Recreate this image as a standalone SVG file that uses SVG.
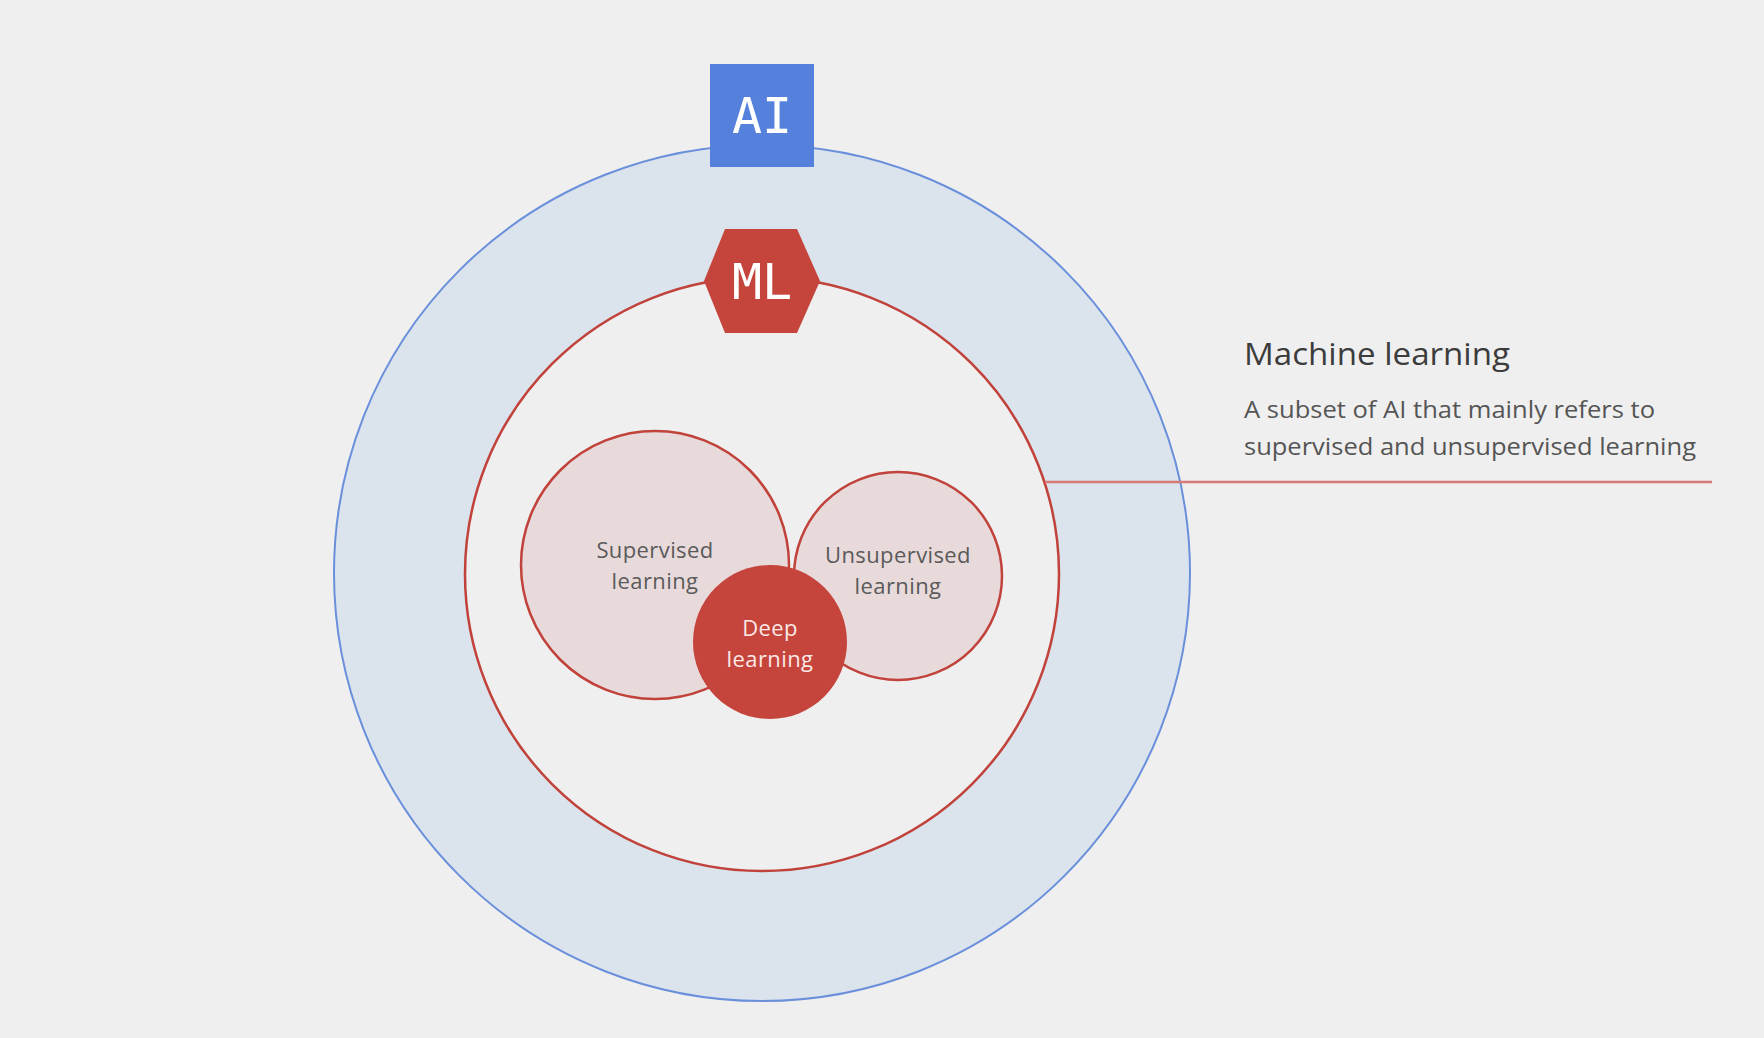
<svg xmlns="http://www.w3.org/2000/svg" width="1764" height="1038" viewBox="0 0 1764 1038">
<style>
.lbl{font-family:"Open Sans","Liberation Sans",sans-serif;font-size:22px;letter-spacing:0.4px;fill:#5a5a5a;text-anchor:middle}
.mono{font-family:"DejaVu Sans Mono","Liberation Mono",monospace;font-size:50px;fill:#ffffff;text-anchor:middle}
.desc{font-family:"Open Sans","Liberation Sans",sans-serif;font-size:23px;fill:#555555}
</style>
<rect width="1764" height="1038" fill="#efefef"/>
<g id="ai-circle"><circle cx="762" cy="573" r="428" fill="#dbe3ec" stroke="#6a8fdb" stroke-width="2"/></g>
<g id="ml-circle"><circle cx="762" cy="574" r="297" fill="#efefef" stroke="#c0423b" stroke-width="2.5"/></g>
<g id="connectors"><line x1="1045" y1="482" x2="1712" y2="482" stroke="#d77a78" stroke-width="2.5"/></g>
<g id="supervised"><circle cx="655" cy="565" r="134" fill="#e8dadb" stroke="#c0423b" stroke-width="2.5"/>
<text class="lbl" x="655" y="558">Supervised</text><text class="lbl" x="655" y="589">learning</text></g>
<g id="unsupervised"><circle cx="898" cy="576" r="104" fill="#e8dadb" stroke="#c0423b" stroke-width="2.5"/>
<text class="lbl" x="898" y="563">Unsupervised</text><text class="lbl" x="898" y="594">learning</text></g>
<g id="deep"><circle cx="770" cy="642" r="77" fill="#c5443b"/>
<text class="lbl" x="770" y="636" style="fill:#fbe9e7">Deep</text><text class="lbl" x="770" y="667" style="fill:#fbe9e7">learning</text></g>
<g id="ai-box"><rect x="710" y="64" width="104" height="103" fill="#5580dc"/><text class="mono" x="762" y="133">AI</text></g>
<g id="ml-hex"><polygon points="725,229 797,229 820,281 797,333 725,333 704,281" fill="#c5443b"/><text class="mono" x="762" y="299">ML</text></g>
<g id="description">
<text x="1244" y="365" textLength="266" lengthAdjust="spacingAndGlyphs" style="font-family:'Open Sans','Liberation Sans',sans-serif;font-size:31px;fill:#3c3c3c">Machine learning</text>
<text class="desc" x="1244" y="418" textLength="411" lengthAdjust="spacingAndGlyphs">A subset of AI that mainly refers to</text>
<text class="desc" x="1244" y="455" textLength="452" lengthAdjust="spacingAndGlyphs">supervised and unsupervised learning</text>
</g>
</svg>
